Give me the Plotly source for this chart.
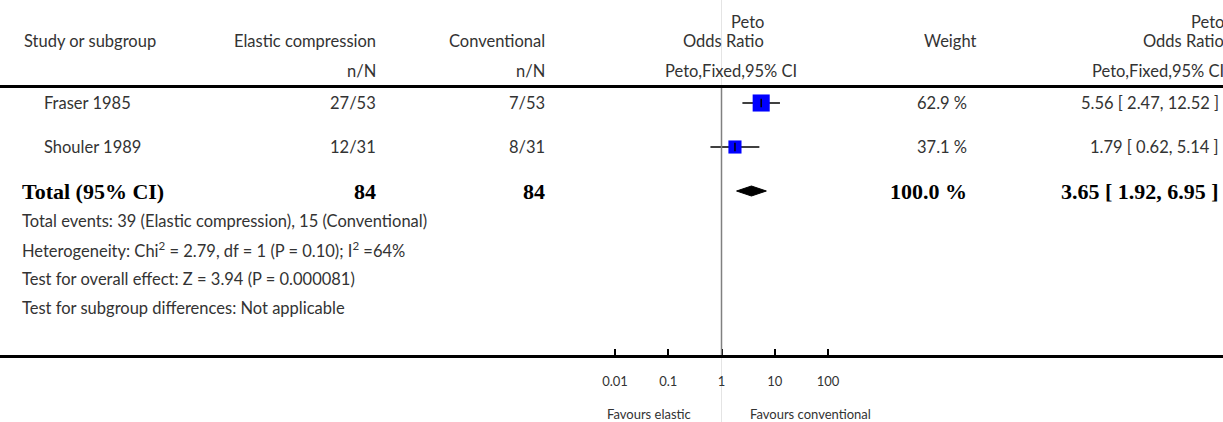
import plotly.graph_objects as go
import math

# ---------------- data ----------------
studies = ["Fraser 1985", "Shouler 1989"]
elastic_nN = ["27/53", "12/31"]
conventional_nN = ["7/53", "8/31"]
odds_ratio = [5.56, 1.79]
ci_low = [2.47, 0.62]
ci_high = [12.52, 5.14]
weights = [62.9, 37.1]

total_label = "Total (95% CI)"
total_elastic = "84"
total_conventional = "84"
total_or = 3.65
total_low = 1.92
total_high = 6.95
total_weight = 100.0

footer_lines = [
    "Total events: 39 (Elastic compression), 15 (Conventional)",
    "Heterogeneity: Chi<sup>2</sup> = 2.79, df = 1 (P = 0.10); I<sup>2</sup> =64%",
    "Test for overall effect: Z = 3.94 (P = 0.000081)",
    "Test for subgroup differences: Not applicable",
]
tick_values = [0.01, 0.1, 1, 10, 100]
tick_labels = ["0.01", "0.1", "1", "10", "100"]
favours_left = "Favours elastic"
favours_right = "Favours conventional"

# ---------------- layout geometry ----------------
W, H = 1223, 422
FONT = "Lato"
SERIF = "Liberation Serif"
TXT = "#333333"
FS = 16.5

def px(x):
    return x / W

def py(y):
    return 1 - y / H

# log axis mapping: x=1 at 721.5 px, 53.25 px per decade
x_one, per_dec = 721.5, 53.25
x_range = [-x_one / per_dec, (W - x_one) / per_dec]
axis_y = 355
row0_y, row_step = 103, 44
y_range = [(axis_y - row0_y) / row_step, -row0_y / row_step]

fig = go.Figure()

# CI lines
cx, cy = [], []
for i in range(len(studies)):
    cx += [ci_low[i], ci_high[i], None]
    cy += [i, i, None]
fig.add_trace(go.Scatter(x=cx, y=cy, mode="lines",
                         line=dict(color="black", width=1.5),
                         hoverinfo="skip", showlegend=False))
# squares sized by weight (area ~ weight)
sizes = [2.15 * math.sqrt(w) for w in weights]
fig.add_trace(go.Scatter(x=odds_ratio, y=list(range(len(studies))), mode="markers",
                         marker=dict(symbol="square", color="#0000ff", size=sizes,
                                     opacity=1, line=dict(width=0)),
                         hoverinfo="skip", showlegend=False))
fig.add_trace(go.Scatter(x=odds_ratio, y=list(range(len(studies))), mode="markers",
                         marker=dict(symbol="line-ns", size=6, opacity=1,
                                     line=dict(color="black", width=1.5)),
                         hoverinfo="skip", showlegend=False))
# diamond
tr = len(studies)
h = 5 / row_step
fig.add_trace(go.Scatter(x=[total_low, total_or, total_high, total_or, total_low],
                         y=[tr, tr - h, tr, tr + h, tr], mode="lines",
                         fill="toself", fillcolor="black",
                         line=dict(color="black", width=1),
                         hoverinfo="skip", showlegend=False))

ann = []

def text(x, y, s, anchor="left", size=FS, font=FONT, color=TXT, yref="paper"):
    ann.append(dict(x=px(x), y=(py(y) if yref == "paper" else y), xref="paper", yref=yref,
                    text=s, showarrow=False, xanchor=anchor, yanchor="middle",
                    font=dict(family=font, size=size, color=color)))

# headers
text(22, 41, "Study or subgroup")
text(378, 41, "Elastic compression", "right")
text(378, 71, "n/N", "right")
text(547, 41, "Conventional", "right")
text(547, 71, "n/N", "right")
text(766, 22, "Peto", "right")
text(766, 41, "Odds Ratio", "right")
text(731, 71, "Peto,Fixed,95% CI", "center")
text(978, 41, "Weight", "right")
text(1226, 22, "Peto", "right")
text(1226, 41, "Odds Ratio", "right")
text(1226, 71, "Peto,Fixed,95% CI", "right")

# study rows
for i, s in enumerate(studies):
    text(42, i, s, yref="y")
    text(378, i, elastic_nN[i], "right", yref="y")
    text(547, i, conventional_nN[i], "right", yref="y")
    text(969, i, f"{weights[i]:.1f} %", "right", yref="y")
    text(1221, i, f"{odds_ratio[i]:.2f} [ {ci_low[i]:.2f}, {ci_high[i]:.2f} ]", "right", yref="y")

# total row
bold = dict(size=22, font=SERIF, color="black", yref="y")
text(20, tr, f"<b>{total_label}</b>", **bold)
text(378, tr, f"<b>{total_elastic}</b>", "right", **bold)
text(547, tr, f"<b>{total_conventional}</b>", "right", **bold)
text(969, tr, f"<b>{total_weight:.1f} %</b>", "right", **bold)
text(1221, tr, f"<b>{total_or:.2f} [ {total_low:.2f}, {total_high:.2f} ]</b>", "right", **bold)

# footer
for k, line in enumerate(footer_lines):
    text(20, 221 + 29 * k, line)

# favours
text(693, 414, favours_left, "right", size=13)
text(748, 414, favours_right, "left", size=13)

shapes = [
    # faint full-height line at OR=1
    dict(type="line", xref="x", yref="paper", x0=1, x1=1, y0=0, y1=1,
         line=dict(color="#e4e4e4", width=1), layer="below"),
    # line of no effect
    dict(type="line", xref="x", yref="paper", x0=1, x1=1, y0=py(87), y1=py(axis_y),
         line=dict(color="#808080", width=1.5)),
    # top rule
    dict(type="line", xref="paper", yref="paper", x0=0, x1=1, y0=py(86.5), y1=py(86.5),
         line=dict(color="black", width=3)),
]

fig.update_layout(
    width=W, height=H,
    margin=dict(l=0, r=0, t=0, b=0),
    paper_bgcolor="white", plot_bgcolor="white",
    showlegend=False,
    annotations=ann, shapes=shapes,
    xaxis=dict(type="log", range=x_range, domain=[0, 1],
               showgrid=False, zeroline=False,
               showline=True, linecolor="black", linewidth=3,
               ticks="inside", ticklen=6, tickwidth=2, tickcolor="black",
               tickvals=tick_values, ticktext=tick_labels,
               tickfont=dict(family=FONT, size=13, color=TXT),
               ticklabelstandoff=12, fixedrange=True),
    yaxis=dict(range=y_range, domain=[(H - axis_y) / H, 1],
               showgrid=False, zeroline=False, showline=False,
               showticklabels=False, ticks="", fixedrange=True),
)

fig.write_html("out.html", config={"displayModeBar": False},
               post_script="document.body.style.margin='0';document.body.style.overflow='hidden';")
